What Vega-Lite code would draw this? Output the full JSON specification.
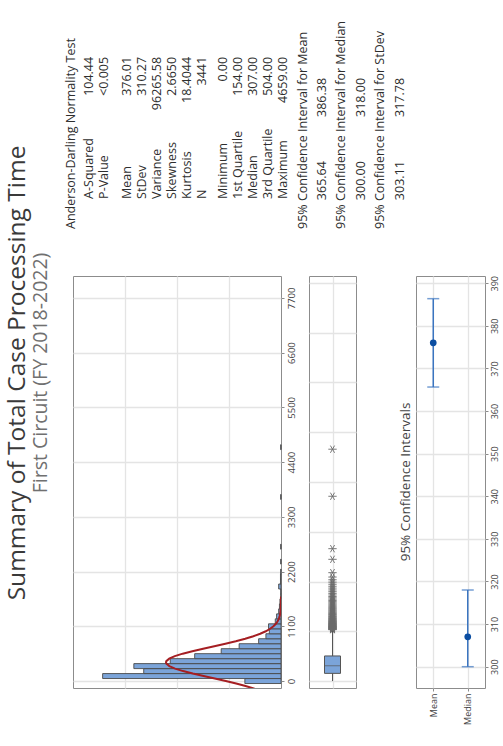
{
  "$schema": "https://vega.github.io/schema/vega-lite/v6.json",
  "background": "white",
  "padding": {"left": 5, "top": 20, "right": 5, "bottom": 5},
  "config": {
    "font": "Open Sans",
    "view": {"stroke": "#8c8c8c", "strokeWidth": 1},
    "axis": {"gridColor": "#e4e4e4", "gridWidth": 1.3, "labelColor": "#444444", "tickColor": "#8c8c8c", "domain": false, "labelFont": "Open Sans"}
  },
  "title": {
    "text": "Summary of Total Case Processing Time",
    "subtitle": "First Circuit (FY 2018-2022)",
    "orient": "left",
    "anchor": "middle",
    "fontSize": 24.5,
    "fontWeight": "normal",
    "color": "#3a3a3a",
    "subtitleFontSize": 19.5,
    "subtitleColor": "#707070",
    "subtitlePadding": 1,
    "offset": 14
  },
  "datasets": {
    "stats": [
      {"line": 1, "kind": "header", "label": "Anderson-Darling Normality Test"},
      {"line": 2.2, "kind": "stat", "label": "A-Squared", "value": "104.44"},
      {"line": 3.2, "kind": "stat", "label": "P-Value", "value": "<0.005"},
      {"line": 4.7, "kind": "stat", "label": "Mean", "value": "376.01"},
      {"line": 5.7, "kind": "stat", "label": "StDev", "value": "310.27"},
      {"line": 6.7, "kind": "stat", "label": "Variance", "value": "96265.58"},
      {"line": 7.7, "kind": "stat", "label": "Skewness", "value": "2.6650"},
      {"line": 8.7, "kind": "stat", "label": "Kurtosis", "value": "18.4044"},
      {"line": 9.7, "kind": "stat", "label": "N", "value": "3441"},
      {"line": 11.15, "kind": "stat", "label": "Minimum", "value": "0.00"},
      {"line": 12.15, "kind": "stat", "label": "1st Quartile", "value": "154.00"},
      {"line": 13.15, "kind": "stat", "label": "Median", "value": "307.00"},
      {"line": 14.15, "kind": "stat", "label": "3rd Quartile", "value": "504.00"},
      {"line": 15.15, "kind": "stat", "label": "Maximum", "value": "4659.00"},
      {"line": 16.45, "kind": "header", "label": "95% Confidence Interval for Mean"},
      {"line": 17.75, "kind": "ci", "lo": "365.64", "hi": "386.38"},
      {"line": 19.0, "kind": "header", "label": "95% Confidence Interval for Median"},
      {"line": 20.3, "kind": "ci", "lo": "300.00", "hi": "318.00"},
      {"line": 21.6, "kind": "header", "label": "95% Confidence Interval for StDev"},
      {"line": 22.9, "kind": "ci", "lo": "303.11", "hi": "317.78"}
    ],
    "hist": [
      {"lo": -50, "hi": 50, "n": 139},
      {"lo": 50, "hi": 150, "n": 686},
      {"lo": 150, "hi": 250, "n": 528},
      {"lo": 250, "hi": 350, "n": 566},
      {"lo": 350, "hi": 450, "n": 426},
      {"lo": 450, "hi": 550, "n": 332},
      {"lo": 550, "hi": 650, "n": 230},
      {"lo": 650, "hi": 750, "n": 161},
      {"lo": 750, "hi": 850, "n": 86},
      {"lo": 850, "hi": 950, "n": 58},
      {"lo": 950, "hi": 1050, "n": 45},
      {"lo": 1050, "hi": 1150, "n": 48},
      {"lo": 1150, "hi": 1250, "n": 22},
      {"lo": 1250, "hi": 1350, "n": 17},
      {"lo": 1350, "hi": 1450, "n": 9},
      {"lo": 1450, "hi": 1550, "n": 6},
      {"lo": 1550, "hi": 1650, "n": 4},
      {"lo": 1650, "hi": 1750, "n": 1},
      {"lo": 1750, "hi": 1850, "n": 1},
      {"lo": 1850, "hi": 1950, "n": 9},
      {"lo": 1950, "hi": 2050, "n": 2},
      {"lo": 2050, "hi": 2150, "n": 2},
      {"lo": 2150, "hi": 2250, "n": 1},
      {"lo": 2350, "hi": 2450, "n": 1},
      {"lo": 2650, "hi": 2750, "n": 1},
      {"lo": 3650, "hi": 3750, "n": 1},
      {"lo": 4650, "hi": 4750, "n": 1}
    ],
    "curve": [
      {"v": -200, "n": 79.0}, {"v": -150, "n": 105.1}, {"v": -100, "n": 136.4}, {"v": -50, "n": 172.4},
      {"v": 0, "n": 212.3}, {"v": 50, "n": 254.7}, {"v": 100, "n": 297.8}, {"v": 150, "n": 339.3},
      {"v": 200, "n": 376.6}, {"v": 250, "n": 407.4}, {"v": 300, "n": 429.3}, {"v": 350, "n": 440.8},
      {"v": 376, "n": 442.4}, {"v": 400, "n": 441.1}, {"v": 450, "n": 430.0}, {"v": 500, "n": 408.4},
      {"v": 550, "n": 378.0}, {"v": 600, "n": 340.9}, {"v": 650, "n": 299.5}, {"v": 700, "n": 256.5},
      {"v": 750, "n": 213.9}, {"v": 800, "n": 173.9}, {"v": 850, "n": 137.7}, {"v": 900, "n": 106.3},
      {"v": 950, "n": 79.9}, {"v": 1000, "n": 58.6}, {"v": 1050, "n": 41.8}, {"v": 1100, "n": 29.1},
      {"v": 1150, "n": 19.7}, {"v": 1200, "n": 13.0}, {"v": 1250, "n": 8.4}, {"v": 1300, "n": 5.3},
      {"v": 1350, "n": 3.2}, {"v": 1400, "n": 1.9}, {"v": 1450, "n": 1.1}, {"v": 1500, "n": 0.6},
      {"v": 1600, "n": 0.2}, {"v": 1700, "n": 0.05}
    ],
    "box": [
      {"grp": "T", "lower": 0, "upper": 1025, "q1": 154, "med": 307, "q3": 504}
    ],
    "outliers": [
      {"grp": "T", "v": 1032}, {"grp": "T", "v": 1038}, {"grp": "T", "v": 1045}, {"grp": "T", "v": 1051},
      {"grp": "T", "v": 1058}, {"grp": "T", "v": 1064}, {"grp": "T", "v": 1070}, {"grp": "T", "v": 1077},
      {"grp": "T", "v": 1083}, {"grp": "T", "v": 1090}, {"grp": "T", "v": 1096}, {"grp": "T", "v": 1103},
      {"grp": "T", "v": 1110}, {"grp": "T", "v": 1118}, {"grp": "T", "v": 1125}, {"grp": "T", "v": 1133},
      {"grp": "T", "v": 1140}, {"grp": "T", "v": 1148}, {"grp": "T", "v": 1157}, {"grp": "T", "v": 1165},
      {"grp": "T", "v": 1174}, {"grp": "T", "v": 1183}, {"grp": "T", "v": 1192}, {"grp": "T", "v": 1201},
      {"grp": "T", "v": 1211}, {"grp": "T", "v": 1221}, {"grp": "T", "v": 1232}, {"grp": "T", "v": 1243},
      {"grp": "T", "v": 1255}, {"grp": "T", "v": 1268}, {"grp": "T", "v": 1281}, {"grp": "T", "v": 1295},
      {"grp": "T", "v": 1309}, {"grp": "T", "v": 1324}, {"grp": "T", "v": 1339}, {"grp": "T", "v": 1355},
      {"grp": "T", "v": 1372}, {"grp": "T", "v": 1389}, {"grp": "T", "v": 1407}, {"grp": "T", "v": 1425},
      {"grp": "T", "v": 1444}, {"grp": "T", "v": 1463}, {"grp": "T", "v": 1483}, {"grp": "T", "v": 1504},
      {"grp": "T", "v": 1526}, {"grp": "T", "v": 1548}, {"grp": "T", "v": 1571}, {"grp": "T", "v": 1595},
      {"grp": "T", "v": 1620}, {"grp": "T", "v": 1646}, {"grp": "T", "v": 1673}, {"grp": "T", "v": 1700},
      {"grp": "T", "v": 1730}, {"grp": "T", "v": 1762}, {"grp": "T", "v": 1795}, {"grp": "T", "v": 1830},
      {"grp": "T", "v": 1868}, {"grp": "T", "v": 1905}, {"grp": "T", "v": 1945}, {"grp": "T", "v": 1988},
      {"grp": "T", "v": 2035}, {"grp": "T", "v": 2090}, {"grp": "T", "v": 2178}, {"grp": "T", "v": 2446},
      {"grp": "T", "v": 2660}, {"grp": "T", "v": 3713}, {"grp": "T", "v": 4659}
    ],
    "ci": [
      {"stat": "Mean", "lo": 365.64, "est": 376.01, "hi": 386.38},
      {"stat": "Median", "lo": 300.0, "est": 307.0, "hi": 318.0}
    ]
  },
  "bounds": "flush",
  "spacing": 40,
  "vconcat": [
    {
      "width": 340,
      "height": 215,
      "view": {"stroke": null},
      "data": {"name": "stats"},
      "encoding": {
        "x": {"field": "line", "type": "quantitative", "scale": {"domain": [1.1333, 23.8], "nice": false, "zero": false}, "axis": null}
      },
      "layer": [
        {
          "transform": [{"filter": "datum.kind == 'header'"}],
          "mark": {"type": "text", "angle": 270, "align": "left", "baseline": "middle", "fontSize": 12.5, "color": "#2e2e2e"},
          "encoding": {
            "text": {"field": "label"},
            "y": {"datum": 0, "type": "quantitative", "scale": {"domain": [-1.1, 32.5], "nice": false, "zero": false}, "axis": null}
          }
        },
        {
          "transform": [{"filter": "datum.kind == 'stat'"}],
          "mark": {"type": "text", "angle": 270, "align": "left", "baseline": "middle", "fontSize": 12.5, "color": "#2e2e2e"},
          "encoding": {
            "text": {"field": "label"},
            "y": {"datum": 4.7, "type": "quantitative", "scale": {"domain": [-1.1, 32.5], "nice": false, "zero": false}, "axis": null}
          }
        },
        {
          "transform": [{"filter": "datum.kind == 'stat'"}],
          "mark": {"type": "text", "angle": 270, "align": "right", "baseline": "middle", "fontSize": 12.5, "color": "#2e2e2e"},
          "encoding": {
            "text": {"field": "value"},
            "y": {"datum": 26.9, "type": "quantitative", "scale": {"domain": [-1.1, 32.5], "nice": false, "zero": false}, "axis": null}
          }
        },
        {
          "transform": [{"filter": "datum.kind == 'ci'"}],
          "mark": {"type": "text", "angle": 270, "align": "right", "baseline": "middle", "fontSize": 12.5, "color": "#2e2e2e"},
          "encoding": {
            "text": {"field": "lo"},
            "y": {"datum": 10.6, "type": "quantitative", "scale": {"domain": [-1.1, 32.5], "nice": false, "zero": false}, "axis": null}
          }
        },
        {
          "transform": [{"filter": "datum.kind == 'ci'"}],
          "mark": {"type": "text", "angle": 270, "align": "right", "baseline": "middle", "fontSize": 12.5, "color": "#2e2e2e"},
          "encoding": {
            "text": {"field": "hi"},
            "y": {"datum": 23.6, "type": "quantitative", "scale": {"domain": [-1.1, 32.5], "nice": false, "zero": false}, "axis": null}
          }
        }
      ]
    },
    {
      "bounds": "full",
      "spacing": 40,
      "hconcat": [
        {
          "bounds": "flush",
          "spacing": 28,
          "hconcat": [
            {
              "width": 208,
              "height": 412,
              "layer": [
                {
                  "data": {"name": "hist"},
                  "mark": {"type": "bar", "fill": "#7ba4d9", "stroke": "#4a4a4a", "strokeWidth": 0.9},
                  "encoding": {
                    "y": {"field": "lo", "type": "quantitative",
                      "scale": {"domain": [-140, 8140], "nice": false, "zero": false},
                      "axis": {"orient": "right", "values": [0, 1100, 2200, 3300, 4400, 5500, 6600, 7700], "format": "d", "labelAngle": 270, "labelAlign": "center", "labelBaseline": "top", "labelFontSize": 9.5, "tickSize": 3, "labelPadding": 2, "grid": true, "domain": false, "title": null}},
                    "y2": {"field": "hi"},
                    "x": {"field": "n", "type": "quantitative",
                      "scale": {"domain": [0, 800], "reverse": true, "nice": false},
                      "axis": {"values": [200, 400, 600], "labels": false, "ticks": false, "domain": false, "grid": true, "title": null}},
                    "x2": {"datum": 0}
                  }
                },
                {
                  "data": {"name": "curve"},
                  "mark": {"type": "line", "color": "#a51e22", "strokeWidth": 2, "clip": true},
                  "encoding": {
                    "y": {"field": "v", "type": "quantitative"},
                    "x": {"field": "n", "type": "quantitative"},
                    "order": {"field": "v", "type": "quantitative"}
                  }
                }
              ]
            },
            {
              "width": 47,
              "height": 412,
              "layer": [
                {
                  "data": {"name": "box"},
                  "mark": {"type": "rule", "color": "#555555", "strokeWidth": 1},
                  "encoding": {
                    "x": {"field": "grp", "type": "nominal", "scale": {"type": "point", "padding": 0.5},
                      "axis": {"grid": true, "labels": false, "ticks": false, "domain": false, "title": null}},
                    "y": {"field": "lower", "type": "quantitative",
                      "scale": {"domain": [-140, 8140], "nice": false, "zero": false},
                      "axis": {"values": [0, 1000, 2000, 3000, 4000, 5000, 6000, 7000, 8000], "grid": true, "labels": false, "ticks": false, "domain": false, "title": null}},
                    "y2": {"field": "upper"}
                  }
                },
                {
                  "data": {"name": "box"},
                  "mark": {"type": "bar", "fill": "#7ba4d9", "stroke": "#555555", "strokeWidth": 1, "width": 16},
                  "encoding": {
                    "x": {"field": "grp", "type": "nominal"},
                    "y": {"field": "q1", "type": "quantitative"},
                    "y2": {"field": "q3"}
                  }
                },
                {
                  "data": {"name": "box"},
                  "mark": {"type": "tick", "color": "#555555", "size": 16, "thickness": 1},
                  "encoding": {
                    "x": {"field": "grp", "type": "nominal"},
                    "y": {"field": "med", "type": "quantitative"}
                  }
                },
                {
                  "data": {"name": "outliers"},
                  "mark": {"type": "point", "shape": "M-1,0L1,0M-0.5,-0.866L0.5,0.866M-0.5,0.866L0.5,-0.866", "filled": false, "stroke": "#6a6a6a", "strokeWidth": 0.9, "size": 70, "opacity": 1},
                  "encoding": {
                    "x": {"field": "grp", "type": "nominal"},
                    "y": {"field": "v", "type": "quantitative"}
                  }
                }
              ]
            }
          ]
        },
        {
          "width": 69,
          "height": 412,
          "title": {"text": "95% Confidence Intervals", "orient": "left", "anchor": "middle", "fontSize": 13.5, "fontWeight": "normal", "color": "#444444", "offset": 4},
          "data": {"name": "ci"},
          "encoding": {
            "x": {"field": "stat", "type": "nominal",
              "scale": {"type": "point", "padding": 0.5, "domain": ["Mean", "Median"]},
              "axis": {"labelAngle": 270, "labelAlign": "right", "labelBaseline": "middle", "grid": true, "tickSize": 3, "labelFontSize": 9, "labelPadding": 2, "domain": false, "title": null}}
          },
          "layer": [
            {
              "mark": {"type": "rule", "color": "#3b75c0", "strokeWidth": 1.5},
              "encoding": {
                "y": {"field": "lo", "type": "quantitative",
                  "scale": {"domain": [295, 391.7], "nice": false, "zero": false},
                  "axis": {"orient": "right", "values": [300, 310, 320, 330, 340, 350, 360, 370, 380, 390], "labelAngle": 270, "labelAlign": "center", "labelBaseline": "top", "labelFontSize": 9, "tickSize": 3, "labelPadding": 2, "grid": true, "domain": false, "title": null}},
                "y2": {"field": "hi"}
              }
            },
            {
              "mark": {"type": "tick", "color": "#3b75c0", "size": 12, "thickness": 1.5},
              "encoding": {"y": {"field": "lo", "type": "quantitative"}}
            },
            {
              "mark": {"type": "tick", "color": "#3b75c0", "size": 12, "thickness": 1.5},
              "encoding": {"y": {"field": "hi", "type": "quantitative"}}
            },
            {
              "mark": {"type": "point", "filled": true, "color": "#0b4ea2", "size": 45, "opacity": 1},
              "encoding": {"y": {"field": "est", "type": "quantitative"}}
            }
          ]
        }
      ]
    }
  ]
}
